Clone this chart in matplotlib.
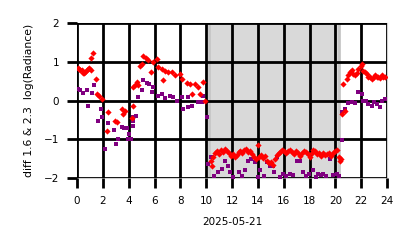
import matplotlib
matplotlib.use("Agg")
import matplotlib.pyplot as plt

# hours since midnight, diff of log(radiance) 1.6um & 2.3um
red_t = [0.05, 0.15, 0.25, 0.35, 0.45, 0.55, 0.65, 0.75, 0.85, 0.95, 1.05,
         1.1, 1.25, 1.5, 1.55, 1.7, 1.9, 2.3, 2.4, 2.95, 3.07, 3.46, 3.57, 3.7,
         4.23, 4.36, 4.3, 4.49, 4.62, 4.73, 4.88, 5.0, 5.13, 5.34, 5.52, 5.7, 5.9,
         6.17, 6.3, 6.55, 6.68, 6.81, 7.07, 7.33, 7.58, 7.97, 8.1, 8.49, 8.75,
         8.88, 9.13, 9.39, 9.52, 9.78, 9.9,
         10.35, 10.45, 10.55, 10.7, 10.85, 11.0, 11.15, 11.3, 11.45, 11.6, 11.75,
         11.9, 12.05, 12.2, 12.35, 12.5, 12.65, 12.8, 12.95, 13.1, 13.25, 13.4,
         13.55, 13.7, 13.85, 14.0, 14.1, 14.25, 14.4, 14.55, 14.7, 14.85, 15.0,
         15.15, 15.3, 15.45, 15.6, 15.75, 15.9, 16.05, 16.2, 16.35, 16.5, 16.65,
         16.8, 16.95, 17.1, 17.25, 17.4, 17.55, 17.7, 17.85, 18.0, 18.15, 18.3,
         18.45, 18.6, 18.75, 18.9, 19.05, 19.2, 19.35, 19.5, 19.65, 19.8, 19.95,
         20.1, 20.25, 20.35, 20.45,
         20.49, 20.61, 20.74, 20.87, 21.0, 21.13, 21.26, 21.39, 21.5, 21.64,
         21.77, 21.95, 22.05, 22.16, 22.3, 22.42, 22.55, 22.68, 22.81, 22.95,
         23.07, 23.2, 23.32, 23.45, 23.58, 23.71, 23.84]
red_v = [0.85, 0.82, 0.78, 0.8, 0.72, 0.7, 0.75, 0.78, 0.82, 0.85, 0.8,
         1.1, 1.22, 0.55, 0.18, 0.13, 0.05, -0.78, -0.3, -0.52, -0.56, -0.21,
         -0.34, -0.26, -0.46, -0.13, 0.34, 0.39, 0.47, 0.39, 0.88, 0.95, 1.16,
         1.1, 1.05, 0.73, 0.99, 1.07, 0.86, 0.82, 0.52, 0.77, 0.73, 0.73, 0.65,
         0.69, 0.56, 0.45, 0.43, 0.17, 0.43, 0.34, 0.17, 0.47, 0.0,
         -1.55, -1.7, -1.45, -1.35, -1.3, -1.38, -1.28, -1.32, -1.26, -1.3, -1.35,
         -1.42, -1.38, -1.45, -1.4, -1.32, -1.3, -1.35, -1.28, -1.25, -1.32, -1.3,
         -1.38, -1.45, -1.5, -1.15, -1.45, -1.4, -1.48, -1.42, -1.55, -1.62, -1.58,
         -1.65, -1.5, -1.4, -1.35, -1.32, -1.28, -1.3, -1.35, -1.3, -1.27, -1.33,
         -1.38, -1.3, -1.35, -1.42, -1.35, -1.3, -1.32, -1.38, -1.45, -1.35, -1.28,
         -1.3, -1.38, -1.35, -1.42, -1.35, -1.4, -1.38, -1.35, -1.42, -1.35, -1.3,
         -1.28, -1.45, -1.55, -1.5,
         -0.34, 0.43, -0.26, 0.56, 0.65, 0.73, 0.78, 0.69, 0.65, 0.72,
         0.82, 0.9, 0.95, 0.77, 0.74, 0.69, 0.62, 0.6, 0.56, 0.6,
         0.65, 0.62, 0.6, 0.58, 0.65, 0.62, 0.6]

purple_t = [0.1, 0.23, 0.47, 0.75, 0.86, 1.13, 1.32, 1.62, 1.86, 1.9, 2.2, 2.4,
            2.87, 3.0, 3.15, 3.46, 3.64, 3.9, 3.95, 4.0, 4.18, 4.31, 4.33, 4.36,
            4.57, 4.75, 5.0, 5.13, 5.39, 5.6, 5.78, 5.9, 6.3, 6.55, 6.81, 7.2,
            7.45, 7.71, 8.1, 8.18, 8.6, 8.62, 8.88, 9.39, 9.65, 9.78, 10.04,
            10.16, 10.4, 10.6, 10.93, 11.2, 11.45, 11.7, 11.84, 12.1, 12.5, 12.8,
            13.0, 13.26, 13.5, 13.8, 14.0, 14.2, 14.45, 14.7, 14.9, 15.2, 15.25,
            15.45, 15.7, 15.97, 16.2, 16.5, 16.75, 17.0, 17.26, 17.5, 17.75,
            17.97, 18.3, 18.5, 18.68, 18.9, 19.06, 19.3, 19.6, 19.85, 20.1, 20.3,
            20.48,
            20.49, 20.74, 21.0, 21.26, 21.5, 21.77, 22.03, 22.16, 22.37, 22.55,
            22.81, 23.0, 23.2, 23.45, 23.58, 23.84]
purple_v = [0.3, 0.28, 0.2, 0.26, -0.13, 0.19, 0.41, -0.54, -0.23, -0.43, -1.24,
            -0.58, -0.77, -1.13, -0.98, -0.69, -0.7, -0.7, -0.98, -0.86, -0.99,
            -0.65, -0.43, -0.52, -0.41, 0.09, 0.26, 0.52, 0.45, 0.43, 0.22, 0.34,
            0.13, 0.17, 0.07, 0.13, 0.1, -0.02, 0.09, -0.21, -0.17, 0.09, -0.13,
            -0.04, -0.04, 0.13, -0.43,
            -1.63, -1.46, -1.95, -1.85, -1.76, -1.55, -1.68, -1.85, -1.97, -1.85,
            -1.95, -1.8, -1.55, -1.5, -1.59, -1.97, -1.8, -1.95, -1.59, -1.68,
            -1.68, -1.85, -1.46, -1.97, -1.89, -1.95, -1.89, -1.93, -1.55, -1.55,
            -1.85, -1.95, -1.89, -1.8, -1.97, -1.89, -1.93, -1.89, -1.95, -1.5,
            -1.93, -1.89, -1.95, -1.03,
            -0.3, -0.21, -0.07, -0.04, -0.07, 0.22, 0.17, 0.0, 0.0, -0.09,
            -0.13, -0.04, -0.09, -0.17, 0.0, 0.04]

night_start, night_end = 10.25, 20.25

fig, ax = plt.subplots(figsize=(4.14, 2.48), dpi=100)
fig.subplots_adjust(left=0.186, right=0.935, bottom=0.282, top=0.907)

ax.axvspan(night_start, night_end, facecolor='#d9d9d9', edgecolor='#c6c6c6',
           linewidth=2, zorder=0)
ax.scatter(purple_t, purple_v, marker='s', s=7, color='#800080', linewidths=0, zorder=3)
ax.scatter(red_t, red_v, marker='D', s=10, color='red', linewidths=0, zorder=3)

ax.set_xlim(0, 24)
ax.set_ylim(-2, 2)
ax.set_xticks(range(0, 25, 2))
ax.set_yticks([-2, -1, 0, 1, 2])
ax.grid(True, color='black', linewidth=2)
ax.set_axisbelow(False)
ax.tick_params(direction='out', length=7, width=2, color='black', labelsize=7.5, pad=6)
for s in ax.spines.values():
    s.set_color('#d0d0d0')
ax.set_xlabel("2025-05-21", fontsize=7.5, labelpad=8)
ax.set_ylabel("diff 1.6 & 2.3  log(Radiance)", fontsize=7.8, labelpad=7)

plt.savefig("out.png", dpi=100)
